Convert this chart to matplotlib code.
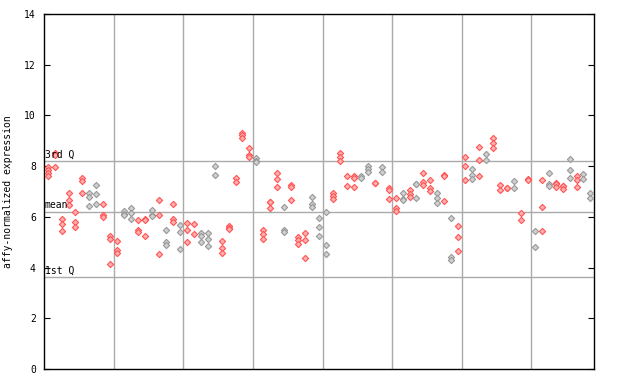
import matplotlib
matplotlib.use("Agg")
import matplotlib.pyplot as plt

# expression values per sample (column)
values = [
    [7.97, 7.83, 7.73, 7.61], [8.52, 8.45, 7.98], [5.91, 5.71, 5.43],
    [6.94, 6.68, 6.48], [6.21, 5.81, 5.60], [7.55, 7.43, 6.96],
    [6.96, 6.78, 6.44], [7.27, 6.92, 6.52], [6.52, 6.09, 6.00],
    [5.26, 5.13, 4.16], [5.03, 4.69, 4.59], [6.23, 6.13, 6.06],
    [6.36, 6.17, 5.92], [5.89, 5.50, 5.41], [5.92, 5.89, 5.26],
    [6.29, 6.06, 6.03], [6.68, 6.09, 4.55], [5.50, 4.99, 4.91],
    [6.52, 5.93, 5.80], [5.66, 5.42, 4.72], [5.77, 5.50, 4.99],
    [5.70, 5.34], [5.38, 5.24, 4.99], [5.38, 5.12, 4.87],
    [8.02, 7.66], [5.03, 4.79, 4.59], [5.63, 5.55, 5.52],
    [7.55, 7.38], [9.32, 9.23, 9.13], [8.73, 8.45, 8.37],
    [8.33, 8.20, 8.16], [5.50, 5.31, 5.13], [6.59, 6.57, 6.36],
    [7.74, 7.51, 7.18], [6.40, 5.50, 5.42], [7.27, 7.18, 6.68],
    [5.21, 5.08, 4.95], [5.38, 5.07, 4.36], [6.78, 6.50, 6.38],
    [5.97, 5.62, 5.26], [6.21, 4.91, 4.55], [6.94, 6.84, 6.71],
    [8.52, 8.36, 8.20], [7.61, 7.22], [7.61, 7.55, 7.18],
    [7.61, 7.55], [8.02, 7.90, 7.77], [7.34, 7.32],
    [7.97, 7.77], [7.15, 7.05, 6.71], [6.76, 6.34, 6.23],
    [6.96, 6.69, 6.67], [7.07, 6.89, 6.78], [7.31, 7.29, 6.76],
    [7.72, 7.36, 7.24], [7.47, 7.15, 7.02], [6.93, 6.73, 6.55],
    [7.65, 7.63, 6.64], [5.97, 4.40, 4.29], [5.64, 5.21, 4.67],
    [8.37, 8.02, 7.47], [7.90, 7.66, 7.49], [8.77, 8.25, 7.62],
    [8.49, 8.25], [9.13, 8.91, 8.71], [7.27, 7.06],
    [7.14, 7.12], [7.43, 7.15], [6.17, 5.89],
    [7.49, 7.47], [5.46, 4.83], [7.47, 6.40, 5.46],
    [7.72, 7.31, 7.23], [7.32, 7.30, 7.18], [7.23, 7.21, 7.10],
    [8.29, 7.86, 7.55], [7.62, 7.44, 7.18], [7.68, 7.51],
    [6.94, 6.76],
]
grey_cols = {6, 7, 11, 12, 15, 17, 19, 22, 23, 24, 30, 34, 38, 39, 40,
             45, 46, 48, 51, 53, 56, 58, 61, 63, 67, 70, 72, 75, 77, 78}
group_size = 10
q1, mean, q3 = 3.62, 6.21, 8.21

font = {'family': 'DejaVu Sans Mono', 'size': 7}

fig = plt.figure(figsize=(6.4, 3.84), dpi=100)
ax = fig.add_axes([0.069, 0.039, 0.859, 0.9245])

n = len(values)
for b in range(group_size, n, group_size):
    ax.axvline(b - 0.5, color='#aaaaaa', lw=1, zorder=1)
for q in (q1, mean, q3):
    ax.axhline(q, color='#aaaaaa', lw=1, zorder=1)

for i, col in enumerate(values):
    if i in grey_cols:
        edge, face = '#999999', '#d0d0d0'
    else:
        edge, face = '#ff5555', '#ffb0b0'
    ax.scatter([i] * len(col), col, marker='D', s=10, facecolors=face,
               edgecolors=edge, linewidths=0.8, zorder=3)

ax.text(-0.45, q3 + 0.05, '3rd Q', fontdict=font, va='bottom', ha='left')
ax.text(-0.45, mean + 0.05, 'mean', fontdict=font, va='bottom', ha='left')
ax.text(-0.45, q1 + 0.05, '1st Q', fontdict=font, va='bottom', ha='left')

ax.set_xlim(-0.5, n - 0.5)
ax.set_ylim(0, 14)
ax.set_xticks([])
ax.set_yticks(range(0, 15, 2))
ax.set_yticklabels([str(v) for v in range(0, 15, 2)], fontdict=font)
ax.tick_params(axis='y', direction='in', length=4, right=True, pad=6)
ax.set_ylabel('affy-normalized expression', fontdict=font, labelpad=8)
for s in ax.spines.values():
    s.set_linewidth(1)

fig.savefig('out.png', dpi=100)
